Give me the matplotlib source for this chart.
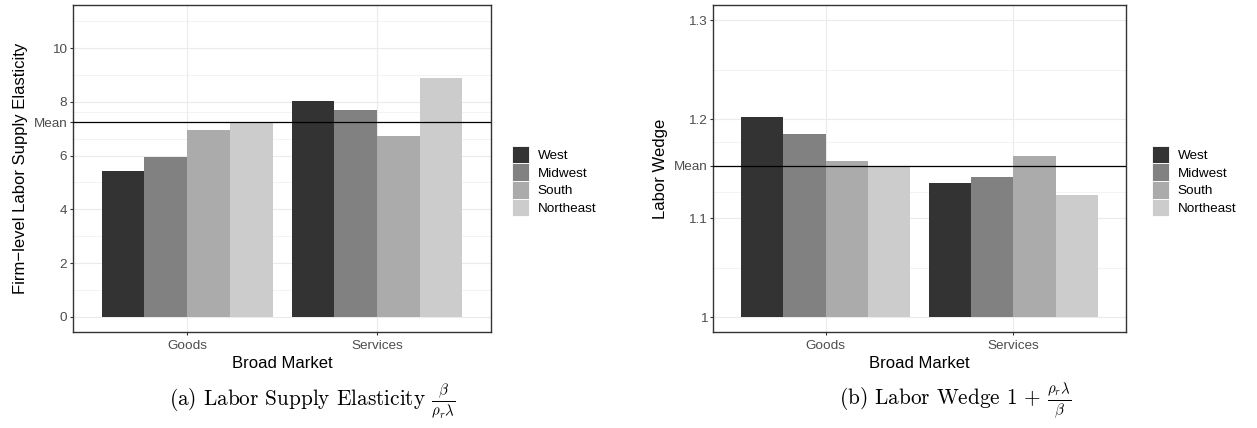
import matplotlib
matplotlib.use('Agg')
import matplotlib.pyplot as plt
from matplotlib.patches import Patch
import numpy as np

plt.rcParams['font.family'] = ['Liberation Sans', 'DejaVu Sans']
plt.rcParams['mathtext.fontset'] = 'cm'

markets = ['Goods', 'Services']
regions = ['West', 'Midwest', 'South', 'Northeast']
region_colors = ['#333333', '#818181', '#ABABAB', '#CCCCCC']

# firm-level labor supply elasticity, per region
elasticity_goods = [5.42, 5.94, 6.94, 7.22]
elasticity_services = [8.04, 7.68, 6.72, 8.87]
elasticity_mean = 7.24
elasticity_ticks = [0, 2, 4, 6, 8, 10]
elasticity_tick_labels = ['0', '2', '4', '6', '8', '10']

# labor wedge, per region
wedge_goods = [1.2023, 1.1852, 1.1578, 1.1525]
wedge_services = [1.1357, 1.1417, 1.1630, 1.1235]
wedge_mean = 1.1531
wedge_ticks = [1.0, 1.1, 1.2, 1.3]
wedge_tick_labels = ['1', '1.1', '1.2', '1.3']

W, H = 1257, 428
GRID = '#EBEBEB'
DARK = '#333333'


def px_axes(fig, x0, x1, y0, y1):
    return fig.add_axes([x0 / W, 1 - y1 / H, (x1 - x0) / W, (y1 - y0) / H])


def draw_panel(ax, goods, services, mean, ticks, tick_labels, ylim, base, ylabel):
    xpos = np.arange(1, len(markets) + 1)
    width = 0.9 / len(regions)
    for i, (region, color) in enumerate(zip(regions, region_colors)):
        vals = np.array([goods[i], services[i]])
        ax.bar(xpos + (i - 1.5) * width, vals - base, width=width, bottom=base,
               color=color, linewidth=0, zorder=2)
    ax.axhline(mean, color='black', linewidth=0.9, zorder=3)

    major = sorted(list(ticks) + [mean])
    labels = dict(zip(ticks, tick_labels))
    labels[mean] = 'Mean'
    ax.set_yticks(major)
    ax.set_yticklabels([labels[t] for t in major])
    step = major[-1] - major[-2]
    ext = major + [major[-1] + step]
    minors = [(a + b) / 2 for a, b in zip(ext[:-1], ext[1:])]
    ax.set_yticks(minors, minor=True)

    ax.set_xticks(xpos)
    ax.set_xticklabels(markets)
    ax.set_xlim(0.4, 2.6)
    ax.set_ylim(*ylim)

    ax.grid(which='major', color=GRID, linewidth=0.8, zorder=0)
    ax.grid(which='minor', axis='y', color=GRID, linewidth=0.4, zorder=0)
    ax.set_axisbelow(True)
    for sp in ax.spines.values():
        sp.set_color(DARK)
        sp.set_linewidth(1.0)
    ax.tick_params(which='major', length=2.2, width=0.8, color=DARK,
                   labelcolor='#4D4D4D', labelsize=9.7, pad=2)
    ax.tick_params(axis='x', which='major', pad=3.5)
    ax.tick_params(which='minor', length=0)
    ax.set_xlabel('Broad Market', fontsize=12, labelpad=3)
    ax.set_ylabel(ylabel, fontsize=12, labelpad=4)


fig = plt.figure(figsize=(W / 100, H / 100), dpi=100)

ax1 = px_axes(fig, 73, 491, 5, 332)
draw_panel(ax1, elasticity_goods, elasticity_services, elasticity_mean,
           elasticity_ticks, elasticity_tick_labels, (-0.56, 11.6), 0,
           'Firm\u2212level Labor Supply Elasticity')

ax2 = px_axes(fig, 713, 1126, 5, 332)
draw_panel(ax2, wedge_goods, wedge_services, wedge_mean,
           wedge_ticks, wedge_tick_labels, (0.985, 1.3155), 1.0,
           'Labor Wedge')

handles = [Patch(facecolor=c, edgecolor='white', linewidth=0.6, label=r)
           for r, c in zip(regions, region_colors)]
for lx in (512, 1152):
    fig.legend(handles=handles, loc='center left', bbox_to_anchor=(lx / W, 1 - 181 / H),
               frameon=False, fontsize=9.7, handlelength=1.25, handleheight=1.65,
               labelspacing=0.0, handletextpad=0.65, borderpad=0, borderaxespad=0)

cap_kw = dict(ha='center', va='baseline', fontsize=15.3, family='cmr10')
fig.text(312 / W, 1 - 406 / H, r'(a) Labor Supply Elasticity $\frac{\beta}{\rho_r\lambda}$', **cap_kw)
fig.text(955 / W, 1 - 406 / H, r'(b) Labor Wedge $1\,+\,\frac{\rho_r\lambda}{\beta}$', **cap_kw)

fig.savefig('out.png', dpi=100)
